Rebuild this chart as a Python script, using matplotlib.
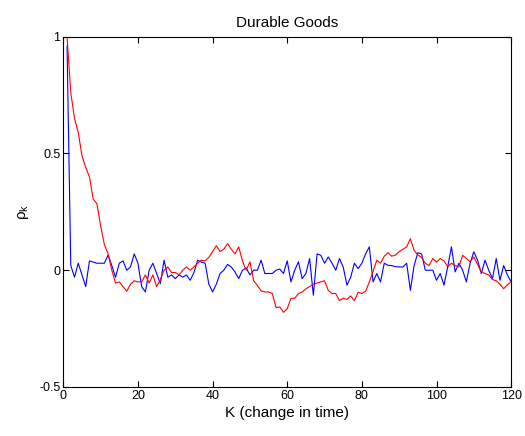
import numpy as np
import matplotlib
matplotlib.use("Agg")
import matplotlib.pyplot as plt

# autocorrelation by lag (lag 1..120)
lags = np.arange(1, 121)

rho_red = [
    1.0, 0.76, 0.65, 0.59, 0.49, 0.44, 0.40, 0.305, 0.285, 0.19,
    0.11, 0.07, 0.0, -0.055, -0.05, -0.07, -0.09, -0.06, -0.045, -0.05,
    -0.05, -0.02, -0.055, -0.02, -0.07, -0.04, 0.0, 0.014, -0.01, -0.01,
    -0.02, 0.0, 0.014, 0.0, 0.014, 0.03, 0.043, 0.04, 0.055, 0.08,
    0.105, 0.08, 0.09, 0.114, 0.09, 0.07, 0.10, 0.04, 0.0, 0.036,
    -0.045, -0.065, -0.088, -0.093, -0.093, -0.10, -0.16, -0.157, -0.18, -0.165,
    -0.12, -0.12, -0.10, -0.093, -0.08, -0.07, -0.06, -0.055, -0.05, -0.045,
    -0.086, -0.10, -0.10, -0.13, -0.12, -0.125, -0.11, -0.13, -0.095, -0.10,
    -0.09, -0.05, -0.005, 0.043, 0.03, 0.06, 0.075, 0.06, 0.065, 0.08,
    0.09, 0.10, 0.135, 0.085, 0.065, 0.055, 0.03, 0.02, 0.05, 0.035,
    0.05, 0.04, 0.015, 0.03, 0.02, 0.015, 0.064, 0.05, 0.036, 0.057,
    0.025, -0.007, -0.014, -0.02, -0.04, -0.045, -0.06, -0.079, -0.062, -0.05,
]

rho_blue = [
    0.96, 0.02, -0.03, 0.03, -0.02, -0.07, 0.04, 0.035, 0.03, 0.03,
    0.03, 0.065, 0.02, -0.03, 0.03, 0.04, 0.0, 0.014, 0.07, 0.03,
    -0.07, -0.093, 0.0, 0.03, -0.014, -0.057, 0.043, -0.03, -0.02, -0.036,
    -0.02, -0.03, -0.02, -0.043, -0.01, 0.043, 0.035, 0.03, -0.06, -0.093,
    -0.06, -0.014, 0.0, 0.025, 0.014, -0.007, -0.036, 0.0, 0.01, -0.02,
    0.0, 0.0, 0.043, -0.014, -0.014, -0.014, 0.0, 0.005, -0.014, 0.04,
    -0.05, 0.0, 0.036, -0.036, -0.014, 0.05, -0.107, 0.07, 0.064, 0.03,
    0.057, 0.03, 0.0, 0.05, 0.014, -0.064, -0.03, 0.03, 0.007, 0.03,
    0.07, 0.10, -0.05, -0.014, -0.05, 0.03, 0.021, 0.02, 0.015, 0.014,
    0.014, 0.03, -0.086, 0.02, 0.075, 0.07, 0.0, 0.0, 0.0, -0.043,
    -0.014, -0.064, 0.014, 0.10, -0.007, 0.03, 0.0, -0.05, 0.03, 0.079,
    0.043, -0.014, 0.043, 0.0, -0.036, 0.05, -0.043, 0.02, -0.02, -0.05,
]

xticks = [0, 20, 40, 60, 80, 100, 120]
yticks = [-0.5, 0, 0.5, 1]

plt.rcParams["font.family"] = ["Liberation Sans", "DejaVu Sans"]

fig = plt.figure(figsize=(5.25, 4.36), dpi=100)
ax = fig.add_axes([0.1206, 0.1124, 0.853, 0.8034])

ax.plot(lags, rho_blue, color="#0000ff", lw=0.8)
ax.plot(lags, rho_red, color="#ff0000", lw=0.8)

ax.set_xlim(0, 120)
ax.set_ylim(-0.5, 1)
ax.set_xticks(xticks)
ax.set_yticks(yticks)
ax.set_yticklabels(["-0.5", "0", "0.5", "1"])
ax.tick_params(direction="in", length=4, width=0.8, top=True, right=True,
               labelsize=9, pad=2)
for s in ax.spines.values():
    s.set_linewidth(0.8)

ax.set_title("Durable Goods", fontsize=11, pad=7)
ax.set_xlabel("K (change in time)", fontsize=11, labelpad=3)
ax.set_ylabel("ρ$_\\mathregular{k}$", fontsize=11, labelpad=6)

fig.savefig("out.png", dpi=100)
